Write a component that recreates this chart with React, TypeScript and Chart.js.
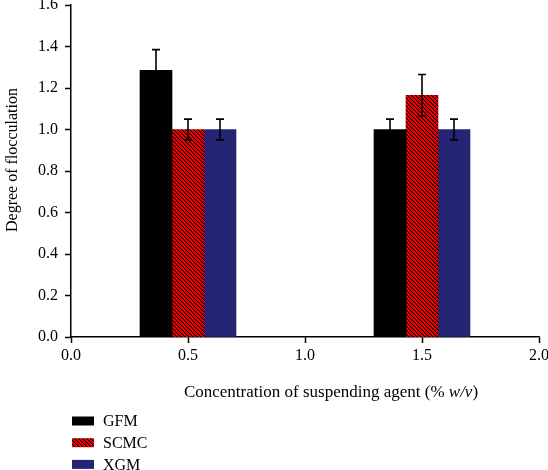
import React, { useEffect, useRef } from "react";
import { Chart, registerables } from "chart.js";

Chart.register(...registerables);

// ---- data ----
const concentrations = [0.5, 1.5];
const seriesNames = ["GFM", "SCMC", "XGM"];
const gfmValues = [1.285, 1.0];
const gfmErrors = [0.1, 0.05];
const scmcValues = [1.0, 1.165];
const scmcErrors = [0.05, 0.1];
const xgmValues = [1.0, 1.0];
const xgmErrors = [0.05, 0.05];
const xTickStep = 0.5;
const yTickStep = 0.2;
const xRange = [0, 2];
const yRange = [0, 1.6];
const xTitleMain = "Concentration of suspending agent (% ";
const xTitleItalic = "w/v";
const xTitleEnd = ")";
const yTitle = "Degree of flocculation";

const FONT = "'Liberation Serif', 'Times New Roman', serif";

function makeRedHatch(): CanvasPattern | string {
  const c = document.createElement("canvas");
  c.width = 4;
  c.height = 4;
  const g = c.getContext("2d");
  if (!g) return "#c00000";
  g.fillStyle = "#f00000";
  g.fillRect(0, 0, 4, 4);
  for (let y = 0; y < 4; y++) {
    for (let x = 0; x < 4; x++) {
      const m = (((x - y) % 4) + 4) % 4;
      if (m === 0) {
        g.fillStyle = "#000000";
        g.fillRect(x, y, 1, 1);
      } else if (m === 1) {
        g.fillStyle = "#b00000";
        g.fillRect(x, y, 1, 1);
      }
    }
  }
  const p = g.createPattern(c, "repeat");
  return p || "#c00000";
}

function makeBlueTexture(): CanvasPattern | string {
  const c = document.createElement("canvas");
  c.width = 2;
  c.height = 2;
  const g = c.getContext("2d");
  if (!g) return "#26267a";
  g.fillStyle = "#2a2a7e";
  g.fillRect(0, 0, 2, 2);
  g.fillStyle = "#1f1f6c";
  g.fillRect(0, 0, 1, 1);
  g.fillRect(1, 1, 1, 1);
  const p = g.createPattern(c, "repeat");
  return p || "#26267a";
}

export default function App() {
  const canvasRef = useRef<HTMLCanvasElement | null>(null);

  useEffect(() => {
    const canvas = canvasRef.current;
    if (!canvas) return;
    const red = makeRedHatch();
    const blue = makeBlueTexture();
    const errors = [gfmErrors, scmcErrors, xgmErrors];

    const errorBarPlugin = {
      id: "errorBars",
      afterDatasetsDraw(chart: any) {
        const ctx = chart.ctx;
        const yScale = chart.scales.y;
        ctx.save();
        ctx.strokeStyle = "#000";
        ctx.lineWidth = 1.6;
        chart.data.datasets.forEach((ds: any, i: number) => {
          const meta = chart.getDatasetMeta(i);
          meta.data.forEach((el: any, j: number) => {
            const v = ds.data[j].y;
            const e = errors[i][j];
            const x = el.x;
            const yt = yScale.getPixelForValue(v + e);
            const yb = yScale.getPixelForValue(v - e);
            ctx.beginPath();
            ctx.moveTo(x, yt);
            ctx.lineTo(x, yb);
            ctx.moveTo(x - 4, yt);
            ctx.lineTo(x + 4, yt);
            ctx.moveTo(x - 4, yb);
            ctx.lineTo(x + 4, yb);
            ctx.stroke();
          });
        });
        ctx.restore();
      },
    };

    const textPlugin = {
      id: "texts",
      afterDraw(chart: any) {
        const ctx = chart.ctx;
        ctx.save();
        ctx.fillStyle = "#000";
        // y title
        ctx.save();
        ctx.font = `16px ${FONT}`;
        ctx.textAlign = "center";
        ctx.textBaseline = "middle";
        ctx.translate(13, 160);
        ctx.rotate(-Math.PI / 2);
        ctx.fillText(yTitle, 0, 0);
        ctx.restore();
        // x title
        const normal = `17px ${FONT}`;
        const italic = `italic 17px ${FONT}`;
        ctx.textBaseline = "middle";
        ctx.textAlign = "left";
        ctx.font = normal;
        const w1 = ctx.measureText(xTitleMain).width;
        const w3 = ctx.measureText(xTitleEnd).width;
        ctx.font = italic;
        const w2 = ctx.measureText(xTitleItalic).width;
        const total = w1 + w2 + w3;
        let x = 331 - total / 2;
        const y = 393;
        ctx.font = normal;
        ctx.fillText(xTitleMain, x, y);
        x += w1;
        ctx.font = italic;
        ctx.fillText(xTitleItalic, x, y);
        x += w2;
        ctx.font = normal;
        ctx.fillText(xTitleEnd, x, y);
        // legend
        ctx.font = `16px ${FONT}`;
        chart.data.datasets.forEach((ds: any, i: number) => {
          const cy = 421 + i * 21.7;
          ctx.fillStyle = ds.backgroundColor;
          ctx.fillRect(72, cy - 4.5, 22, 9);
          ctx.fillStyle = "#000";
          ctx.fillText(ds.label, 103, cy + 1);
        });
        ctx.restore();
      },
    };

    const dataFor = (vals: number[]) => concentrations.map((c, k) => ({ x: c, y: vals[k] }));

    const chart = new Chart(canvas, {
      type: "bar",
      data: {
        datasets: [
          { label: seriesNames[0], data: dataFor(gfmValues), backgroundColor: "#000000", borderWidth: 0 },
          { label: seriesNames[1], data: dataFor(scmcValues), backgroundColor: red as any, borderWidth: 0 },
          { label: seriesNames[2], data: dataFor(xgmValues), backgroundColor: blue as any, borderWidth: 0 },
        ],
      },
      options: {
        animation: false,
        responsive: false,
        maintainAspectRatio: false,
        events: [],
        layout: { padding: { top: 5, right: 9, left: 0, bottom: 0 } },
        datasets: { bar: { barThickness: 32, grouped: true } },
        plugins: {
          legend: { display: false },
          tooltip: { enabled: false },
          title: { display: false },
        },
        scales: {
          x: {
            type: "linear",
            min: xRange[0],
            max: xRange[1],
            offset: false,
            grid: {
              display: true,
              offset: false,
              drawOnChartArea: false,
              drawTicks: true,
              tickLength: 6,
              tickColor: "#000",
              tickWidth: 1.5,
            },
            border: { display: true, color: "#000", width: 1.5 },
            ticks: {
              stepSize: xTickStep,
              color: "#000",
              font: { family: FONT, size: 16 },
              padding: 3,
              maxRotation: 0,
              autoSkip: false,
              callback: (v: any) => Number(v).toFixed(1),
            },
            afterFit: (s: any) => {
              s.height = 133;
              s.paddingLeft = 0;
              s.paddingRight = 0;
            },
          },
          y: {
            type: "linear",
            min: yRange[0],
            max: yRange[1],
            grid: {
              display: true,
              drawOnChartArea: false,
              drawTicks: true,
              tickLength: 6,
              tickColor: "#000",
              tickWidth: 1.5,
            },
            border: { display: true, color: "#000", width: 1.5 },
            ticks: {
              stepSize: yTickStep,
              color: "#000",
              font: { family: FONT, size: 16 },
              padding: 7,
              callback: (v: any) => Number(v).toFixed(1),
            },
            afterFit: (s: any) => {
              s.width = 71;
              s.paddingTop = 0;
              s.paddingBottom = 0;
            },
          },
        },
      },
      plugins: [errorBarPlugin, textPlugin],
    } as any);

    return () => chart.destroy();
  }, []);

  return (
    <div style={{ position: "absolute", left: 0, top: 0, width: 548, height: 470, background: "#fff" }}>
      <canvas ref={canvasRef} width={548} height={470} style={{ display: "block" }} />
    </div>
  );
}
